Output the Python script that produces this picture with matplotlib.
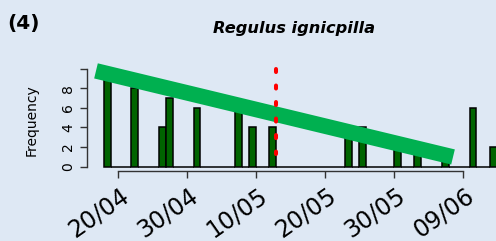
import matplotlib
matplotlib.use("Agg")
import matplotlib.pyplot as plt
import matplotlib.transforms as mtransforms
import numpy as np

# ---- data (day offsets relative to 20/04) ----
bar_days = [-2, 2, 6, 7, 11, 17, 19, 22, 33, 35, 40, 43, 47, 51, 54]
bar_counts = [9, 8, 4, 7, 6, 6, 4, 4, 4, 4, 2, 2, 1, 6, 2]
hist_start, hist_end = -2, 55

tick_days = [0, 10, 20, 30, 40, 50]
tick_labels = ["20/04", "30/04", "10/05", "20/05", "30/05", "09/06"]
y_ticks = [0, 2, 4, 6, 8, 10]
y_ticklabels = ["0", "2", "4", "6", "8", ""]

trend_x = [-3.14, 48.6]
trend_y = [9.77, 0.99]
peak_day = 23
peak_y = [9.97, 1.3]

title = "Regulus ignicpilla"
panel = "(4)"

W, H, DPI = 496, 241, 100
bg = "#DEE8F4"

fig = plt.figure(figsize=(W / DPI, H / DPI), dpi=DPI, facecolor=bg)
ax = fig.add_axes([87.3 / W, 1 - 171.2 / H, 1 - 87.3 / W, (171.2 - 50) / H])
ax.set_facecolor("none")
ax.set_xlim(-4.4, 54.83)
ax.set_ylim(-0.46, 11.9)

# full daily histogram including empty bins
days = np.arange(hist_start, hist_end)
counts = np.zeros(len(days))
for d, c in zip(bar_days, bar_counts):
    counts[list(days).index(d)] = c
ax.bar(days, counts, width=1, align="edge", color="#006400",
       edgecolor="black", linewidth=1.1, zorder=2)

ax.plot(trend_x, trend_y, color="#00B050", lw=11.2, solid_capstyle="butt",
        zorder=3, clip_on=False)
ax.plot([peak_day, peak_day], peak_y, color="red", lw=2.9,
        dashes=(0.75, 3.35), dash_capstyle="round", zorder=4)

for s in ["top", "right"]:
    ax.spines[s].set_visible(False)
spc = "#333333"
ax.spines["left"].set_bounds(0, 10)
ax.spines["bottom"].set_bounds(0, 50)
for s in ["left", "bottom"]:
    ax.spines[s].set_color(spc)
    ax.spines[s].set_linewidth(1.0)

ax.set_yticks(y_ticks)
ax.set_yticklabels(y_ticklabels, rotation=90, va="center", fontsize=10)
ax.tick_params(axis="y", length=5, width=1, color=spc, pad=3.6)

ax.set_xticks(tick_days)
ax.set_xticklabels(tick_labels, rotation=35, ha="right", va="top",
                   rotation_mode="anchor", fontsize=17)
ax.tick_params(axis="x", length=5, width=1, color=spc, pad=4)
off = mtransforms.ScaledTranslation(2 / DPI, 0, fig.dpi_scale_trans)
for lab in ax.get_xticklabels():
    lab.set_transform(lab.get_transform() + off)

fig.text(32 / W, 1 - 120 / H, "Frequency", rotation=90, va="center",
         ha="center", fontsize=10)
fig.text(294 / W, 1 - 33 / H, title, ha="center", va="baseline",
         fontsize=11.7, fontweight="bold", style="italic")
fig.text(7 / W, 1 - 23 / H, panel, ha="left", va="center",
         fontsize=14.5, fontweight="bold")

fig.savefig("out.png", dpi=DPI, facecolor=bg)
